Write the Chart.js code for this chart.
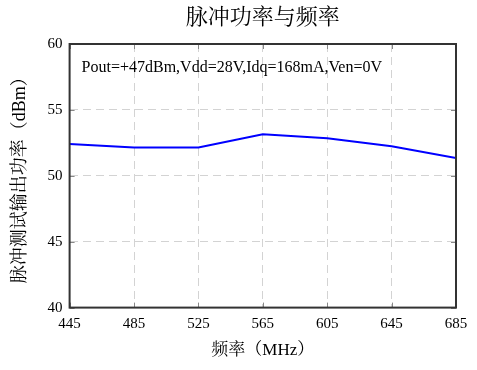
<!DOCTYPE html>
<html><head><meta charset="utf-8">
<script src="https://cdn.jsdelivr.net/npm/chart.js@4/dist/chart.umd.min.js"></script>
<style>html,body{margin:0;padding:0;background:#fff}#w{width:477px;height:370px}</style>
</head><body><div id="w"><canvas id="c"></canvas></div>
<script>
const categories = [445, 485, 525, 565, 605, 645, 685];
const powerValues = [52.42, 52.14, 52.14, 53.16, 52.85, 52.24, 51.35];
const yTicks = [40, 45, 50, 55, 60];
const titleText = '脉冲功率与频率';
const xTitle = '频率（MHz）';
const yTitle = '脉冲测试输出功率（dBm）';
const noteText = 'Pout=+47dBm,Vdd=28V,Idq=168mA,Ven=0V';

const FONT = '"Liberation Serif", "Noto Serif CJK SC", "Noto Sans CJK SC", serif';

const framePlugin = {
  id: 'frame',
  afterDraw(chart) {
    const {ctx, chartArea: a, scales} = chart;
    ctx.save();
    ctx.strokeStyle = '#888';
    ctx.lineWidth = 1;
    categories.forEach(v => {
      const x = Math.round(scales.x.getPixelForValue(v)) + 0.5;
      ctx.beginPath(); ctx.moveTo(x, a.bottom); ctx.lineTo(x, a.bottom - 5); ctx.stroke();
      ctx.beginPath(); ctx.moveTo(x, a.top); ctx.lineTo(x, a.top + 5); ctx.stroke();
    });
    yTicks.forEach(v => {
      const y = Math.round(scales.y.getPixelForValue(v)) + 0.5;
      ctx.beginPath(); ctx.moveTo(a.left, y); ctx.lineTo(a.left + 5, y); ctx.stroke();
      ctx.beginPath(); ctx.moveTo(a.right, y); ctx.lineTo(a.right - 5, y); ctx.stroke();
    });
    ctx.strokeStyle = '#333';
    ctx.lineWidth = 2;
    ctx.strokeRect(a.left, a.top, a.right - a.left, a.bottom - a.top);
    ctx.fillStyle = '#000';
    ctx.font = '16px ' + FONT;
    ctx.textBaseline = 'middle';
    ctx.textAlign = 'left';
    ctx.fillText(noteText, a.left + 12, a.top + 24);
    ctx.font = '22px ' + FONT;
    ctx.textAlign = 'center';
    ctx.fillText(titleText, (a.left + a.right) / 2, 18);
    ctx.restore();
  }
};

new Chart(document.getElementById('c'), {
  type: 'line',
  data: {
    datasets: [{
      data: categories.map((x, i) => ({x, y: powerValues[i]})),
      borderColor: '#0000ff',
      borderWidth: 2,
      pointRadius: 0,
      tension: 0,
      fill: false
    }]
  },
  options: {
    responsive: true,
    maintainAspectRatio: false,
    animation: false,
    layout: {padding: {left: 9, right: 21, top: 44, bottom: 9}},
    plugins: {
      legend: {display: false},
      tooltip: {enabled: false},
      title: {display: false}
    },
    scales: {
      x: {
        type: 'linear', min: 445, max: 685,
        afterBuildTicks: s => { s.ticks = categories.map(v => ({value: v})); },
        grid: {color: '#d3d3d3', lineWidth: 1, drawTicks: false},
        border: {display: false, dash: [8, 5]},
        ticks: {color: '#000', font: {family: FONT, size: 15}, padding: 7, maxRotation: 0, autoSkip: false},
        title: {display: true, text: xTitle, color: '#000', font: {family: FONT, size: 17}, padding: {top: 1, bottom: 0}}
      },
      y: {
        min: 40, max: 60,
        afterBuildTicks: s => { s.ticks = yTicks.map(v => ({value: v})); },
        grid: {color: '#d3d3d3', lineWidth: 1, drawTicks: false},
        border: {display: false, dash: [8, 5]},
        ticks: {color: '#000', font: {family: FONT, size: 15}, padding: 7},
        title: {display: true, text: yTitle, color: '#000', font: {family: FONT, size: 18}, padding: {top: 0, bottom: 10}}
      }
    }
  },
  plugins: [framePlugin]
});
</script>
</body></html>
